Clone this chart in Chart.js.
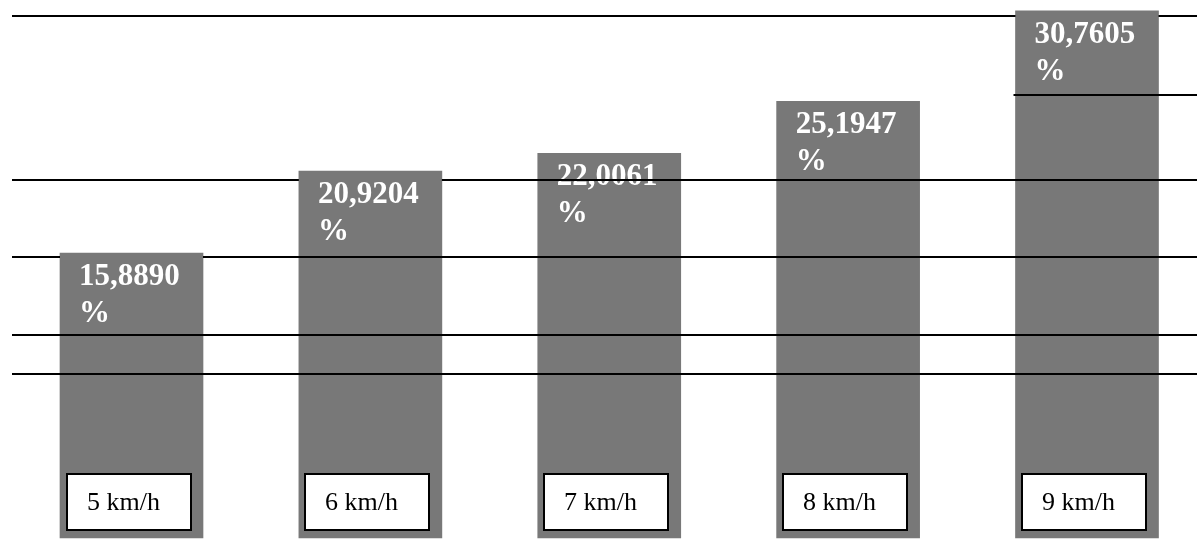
<!DOCTYPE html>
<html><head><meta charset="utf-8">
<script src="https://cdn.jsdelivr.net/npm/chart.js@4.4.1/dist/chart.umd.min.js"></script>
<style>html,body{margin:0;padding:0;background:#fff;overflow:hidden}</style>
</head><body>
<canvas id="c" width="1197" height="539"></canvas>
<script>
// ---- data ----
const categories = ['5 km/h', '6 km/h', '7 km/h', '8 km/h', '9 km/h'];
const shareValues = [15.8890, 20.9204, 22.0061, 25.1947, 30.7605];
const valueSuffix = '%';

// ---- look ----
const SERIF = '"Liberation Serif", "Times New Roman", serif';
const yMin = -1.61, yMax = 31.42;

const decorPlugin = {
  id: 'decor',
  afterDatasetsDraw(chart, args, opts) {
    const ctx = chart.ctx;
    const meta = chart.getDatasetMeta(0);
    const yScale = chart.scales.y;
    ctx.save();
    // value labels
    ctx.fillStyle = '#ffffff';
    ctx.font = 'bold 31px ' + SERIF;
    ctx.textAlign = 'left';
    ctx.textBaseline = 'alphabetic';
    meta.data.forEach((bar, i) => {
      const left = bar.x - bar.width / 2;
      const txt = shareValues[i].toFixed(4).replace('.', ',');
      ctx.fillText(txt, left + 19, bar.y + 32);
      ctx.fillText(valueSuffix, left + 19, bar.y + 69);
    });
    // horizontal rules
    ctx.strokeStyle = '#000';
    ctx.lineWidth = 2;
    opts.rules.forEach(r => {
      const y = Math.round(yScale.getPixelForValue(r.value));
      let segs = [[opts.startX, chart.width]];
      if (r.fromBar !== undefined) {
        const b = meta.data[r.fromBar];
        segs = [[b.x - b.width / 2 - 2, chart.width]];
      }
      (r.gaps || []).forEach(gi => {
        const b = meta.data[gi];
        const g0 = b.x - b.width / 2, g1 = b.x + b.width / 2;
        const out = [];
        segs.forEach(([a, c]) => {
          if (g1 <= a || g0 >= c) { out.push([a, c]); return; }
          if (g0 > a) out.push([a, g0]);
          if (g1 < c) out.push([g1, c]);
        });
        segs = out;
      });
      segs.forEach(([a, c]) => {
        ctx.beginPath();
        ctx.moveTo(a, y);
        ctx.lineTo(c, y);
        ctx.stroke();
      });
    });
    // category boxes
    const bw = 126, bh = 58;
    meta.data.forEach((bar, i) => {
      const x0 = Math.round(bar.x - bw / 2 - 3);
      const y0 = Math.round(chart.chartArea.bottom - 7 - bh);
      ctx.fillStyle = '#ffffff';
      ctx.fillRect(x0, y0, bw, bh);
      ctx.strokeStyle = '#000';
      ctx.lineWidth = 2;
      ctx.strokeRect(x0 + 1, y0 + 1, bw - 2, bh - 2);
      ctx.fillStyle = '#000';
      ctx.font = '26px ' + SERIF;
      ctx.textAlign = 'left';
      ctx.textBaseline = 'alphabetic';
      ctx.fillText(categories[i], x0 + 21, y0 + 37);
    });
    ctx.restore();
  }
};

new Chart(document.getElementById('c'), {
  type: 'bar',
  data: {
    labels: categories,
    datasets: [{
      data: shareValues,
      backgroundColor: '#787878',
      borderWidth: 0,
      barThickness: 143,
      base: yMin,
      clip: false
    }]
  },
  options: {
    responsive: false,
    animation: false,
    devicePixelRatio: 1,
    layout: { padding: { left: 131.5, right: 110, top: 0, bottom: 1 } },
    scales: {
      x: { display: false, offset: false, grid: { display: false } },
      y: { display: false, min: yMin, max: yMax, grid: { display: false } }
    },
    plugins: {
      legend: { display: false },
      tooltip: { enabled: false },
      decor: {
        startX: 12,
        rules: [
          { value: 30.46, gaps: [4] },
          { value: 25.61, fromBar: 4 },
          { value: 20.38, gaps: [1] },
          { value: 15.66, gaps: [0] },
          { value: 10.85 },
          { value: 8.48 }
        ]
      }
    }
  },
  plugins: [decorPlugin]
});
</script>
</body></html>
